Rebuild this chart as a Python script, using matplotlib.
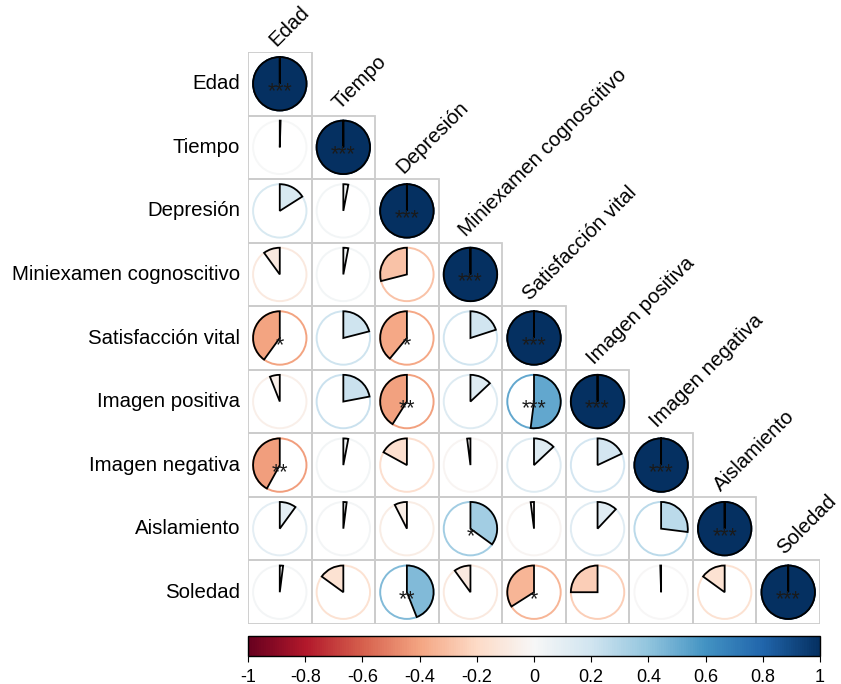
import numpy as np
import matplotlib.pyplot as plt
from matplotlib.patches import Wedge, Circle, Rectangle
from matplotlib.colors import Normalize
from matplotlib.cm import ScalarMappable

plt.rcParams['font.family'] = ['Liberation Sans', 'DejaVu Sans']

variables = ['Edad', 'Tiempo', 'Depresión', 'Miniexamen cognoscitivo',
             'Satisfacción vital', 'Imagen positiva', 'Imagen negativa',
             'Aislamiento', 'Soledad']

# lower triangle of the correlation matrix, row by row (diagonal included)
corr_rows = [
    [1.00],
    [0.005, 1.00],
    [0.16, 0.03, 1.00],
    [-0.10, 0.03, -0.29, 1.00],
    [-0.40, 0.21, -0.39, 0.20, 1.00],
    [-0.06, 0.22, -0.41, 0.13, 0.52, 1.00],
    [-0.42, 0.03, -0.17, -0.02, 0.13, 0.18, 1.00],
    [0.10, 0.02, -0.075, 0.35, -0.02, 0.12, 0.27, 1.00],
    [0.02, -0.15, 0.44, -0.10, -0.34, -0.25, -0.005, -0.15, 1.00],
]

# significance marks, same layout
sig_rows = [
    ['***'],
    ['', '***'],
    ['', '', '***'],
    ['', '', '', '***'],
    ['*', '', '*', '', '***'],
    ['', '', '**', '', '***', '***'],
    ['**', '', '', '', '', '', '***'],
    ['', '', '', '*', '', '', '', '***'],
    ['', '', '**', '', '*', '', '', '', '***'],
]

n = len(variables)
cmap = plt.get_cmap('RdBu')
norm = Normalize(-1, 1)

W, H = 841, 684
fig = plt.figure(figsize=(W / 100, H / 100), dpi=100)
ax = fig.add_axes([248 / W, 1 - 624 / H, 572 / W, 572 / H])
ax.set_xlim(0, n)
ax.set_ylim(n, 0)
ax.set_aspect('equal')
ax.axis('off')

rad = 0.42
for i in range(n):
    for j in range(i + 1):
        r = corr_rows[i][j]
        cx, cy = j + 0.5, i + 0.5
        ax.add_patch(Rectangle((j, i), 1, 1, fill=False, ec='#cccccc', lw=1.3, zorder=1))
        col = cmap(norm(r))
        ax.add_patch(Circle((cx, cy), rad, fc='white', ec=col, lw=1.4, zorder=2))
        # y axis is inverted, so growing data angles run clockwise on screen;
        # a full 360 wedge would lose its radial edge, so stop just short
        ang = min(360 * abs(r), 359.9)
        if r >= 0:
            t1, t2 = 270, 270 + ang
        else:
            t1, t2 = 270 - ang, 270
        ax.add_patch(Wedge((cx, cy), rad, t1, t2, fc=col, ec='black', lw=1.3, zorder=3))
        s = sig_rows[i][j]
        if s:
            ax.text(cx, cy + 0.12, s, ha='center', va='center', fontsize=15.5,
                    color='#1a1a1a', zorder=4)

for k, name in enumerate(variables):
    ax.text(-0.12, k + 0.5, name, ha='right', va='center', fontsize=14.7)
    ax.text(k + 0.44, k - 0.08, name, ha='left', va='baseline', fontsize=14.7,
            rotation=45, rotation_mode='anchor')

cax = fig.add_axes([248 / W, 1 - 656 / H, 572 / W, 20 / H])
cb = fig.colorbar(ScalarMappable(norm=norm, cmap=cmap), cax=cax,
                  orientation='horizontal')
ticks = np.round(np.arange(-1, 1.01, 0.2), 1)
cb.set_ticks(ticks)
cb.set_ticklabels(['%g' % t if t != 0 else '0' for t in ticks])
cb.ax.tick_params(labelsize=13, length=4, width=0.8, pad=5)
cb.outline.set_linewidth(1.0)

fig.savefig('out.png', dpi=100)
